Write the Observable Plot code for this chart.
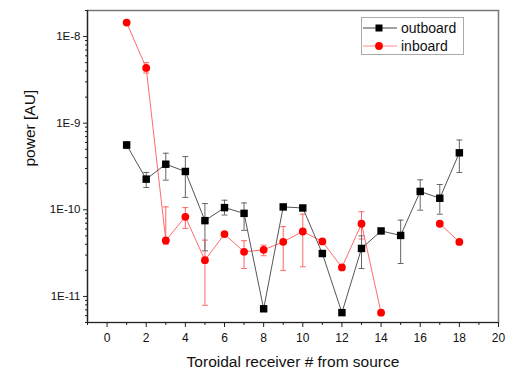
<!DOCTYPE html>
<html>
<head>
<meta charset="utf-8">
<script src="https://cdn.jsdelivr.net/npm/d3@7"></script>
<script src="https://cdn.jsdelivr.net/npm/@observablehq/plot@0.6"></script>
<style>
  html, body { margin: 0; padding: 0; background: #fff; }
  #wrap { position: relative; width: 512px; height: 368px; font-family: "Liberation Sans", Arial, sans-serif; }
  #legend { position: absolute; left: 361px; top: 17px; width: 101px; height: 36px; border: 1px solid #aaa; background: #fff; font-size: 14px; }
  #legend .row { position: absolute; left: 0; height: 18px; display: flex; align-items: center; }
  #legend svg { display: block; }
  #legend span { margin-left: 4px; color: #111; }
</style>
</head>
<body>
<div id="wrap"></div>
<script>
// ---- data ----
const receivers = [1,2,3,4,5,6,7,8,9,10,11,12,13,14,15,16,17,18];
const outboard = [5.6e-10,2.26e-10,3.36e-10,2.77e-10,7.5e-11,1.06e-10,9.1e-11,7.2e-12,1.08e-10,1.05e-10,3.13e-11,6.5e-12,3.58e-11,5.7e-11,5.06e-11,1.63e-10,1.36e-10,4.55e-10];
const outboardHi = [6.1e-10,2.7e-10,4.5e-10,4.12e-10,1.18e-10,1.29e-10,1.2e-10,null,null,null,null,null,5.0e-11,null,7.6e-11,2.22e-10,1.96e-10,6.4e-10];
const outboardLo = [5.1e-10,1.81e-10,2.2e-10,1.39e-10,3.36e-11,8.7e-11,5.8e-11,null,null,null,null,null,2.1e-11,null,2.4e-11,9.9e-11,8.9e-11,2.7e-10];
const inboard = [1.45e-8,4.35e-9,4.43e-11,8.3e-11,2.62e-11,5.24e-11,3.27e-11,3.45e-11,4.27e-11,5.62e-11,4.31e-11,2.16e-11,6.9e-11,6.5e-12,null,null,6.9e-11,4.26e-11];
const inboardHi = [null,5.0e-9,1.08e-10,1.06e-10,4.47e-11,null,4.4e-11,3.9e-11,6.4e-11,8.9e-11,null,null,9.5e-11,null,null,null,null,null];
const inboardLo = [null,3.8e-9,4.0e-11,6.1e-11,7.9e-12,null,2.1e-11,2.95e-11,2.0e-11,2.2e-11,null,null,4.6e-11,null,null,null,null,null];
const xMajorTicks = [0,2,4,6,8,10,12,14,16,18,20];
const xMinorTicks = [-1,1,3,5,7,9,11,13,15,17,19];
const yMajorTicks = [1e-8,1e-9,1e-10,1e-11];
const yTickLabels = ["1E-8","1E-9","1E-10","1E-11"];
const seriesNames = ["outboard","inboard"];
const xLabel = "Toroidal receiver # from source";
const yLabel = "power [AU]";

// ---- build tables ----
const outRows = receivers.map((r,i) => ({x: r, y: outboard[i], lo: outboardLo[i], hi: outboardHi[i]}));
const inRows = receivers.map((r,i) => ({x: r, y: inboard[i] == null ? NaN : inboard[i], lo: inboardLo[i], hi: inboardHi[i]}));
const outErr = outRows.filter(d => d.lo != null);
const inErr = inRows.filter(d => d.lo != null);
const caps = rows => rows.flatMap(d => [{x: d.x, v: d.lo}, {x: d.x, v: d.hi}]);
const capW = 0.15;
const yMinor = [];
for (let e = -12; e <= -8; e++) for (let m = 2; m <= 9; m++) {
  const v = m * Math.pow(10, e);
  if (v >= 5e-12 && v <= 2e-8) yMinor.push(v);
}
const yFmt = d => {
  const k = yMajorTicks.findIndex(v => Math.abs(Math.log10(v / d)) < 1e-6);
  return k >= 0 ? yTickLabels[k] : "";
};

const chart = Plot.plot({
  width: 512, height: 368,
  marginLeft: 87, marginRight: 14, marginTop: 10, marginBottom: 46,
  style: {fontFamily: "'Liberation Sans', Arial, sans-serif", fontSize: "12px", color: "#111", background: "#fff"},
  x: {domain: [-1, 20]},
  y: {type: "log", domain: [5e-12, 2e-8]},
  marks: [
    Plot.frame({stroke: "#777", strokeWidth: 1.5}),
    Plot.ruleX([-1], {stroke: "#222", strokeWidth: 1.2}),
    Plot.ruleY([5e-12], {stroke: "#222", strokeWidth: 1.2}),
    Plot.axisX({ticks: xMajorTicks, tickSize: 5, tickPadding: 6, fontSize: 12, label: null, stroke: "#222"}),
    Plot.axisX({ticks: xMinorTicks, tickSize: 3, text: null, label: null, stroke: "#222"}),
    Plot.axisY({ticks: yMajorTicks, tickFormat: yFmt, tickSize: 4, tickPadding: 3, fontSize: 11.5, label: null, stroke: "#222"}),
    Plot.axisY({ticks: yMinor, tickSize: 2, text: null, label: null, stroke: "#222"}),
    Plot.text([xLabel], {frameAnchor: "bottom", dy: 44, fontSize: 15.5, fill: "#111"}),
    Plot.text([yLabel], {frameAnchor: "left", dx: -57, rotate: -90, fontSize: 15.5, fill: "#111"}),
    // inboard error bars
    Plot.ruleX(inErr, {x: "x", y1: "lo", y2: "hi", stroke: "#f66", strokeWidth: 1}),
    Plot.link(caps(inErr), {x1: d => d.x - capW, x2: d => d.x + capW, y1: "v", y2: "v", stroke: "#f66", strokeWidth: 1}),
    // outboard error bars
    Plot.ruleX(outErr, {x: "x", y1: "lo", y2: "hi", stroke: "#666", strokeWidth: 1}),
    Plot.link(caps(outErr), {x1: d => d.x - capW, x2: d => d.x + capW, y1: "v", y2: "v", stroke: "#666", strokeWidth: 1}),
    // lines
    Plot.line(inRows, {x: "x", y: "y", stroke: "#ff6b6b", strokeWidth: 1}),
    Plot.line(outRows, {x: "x", y: "y", stroke: "#555", strokeWidth: 1}),
    // markers
    Plot.dot(outRows, {x: "x", y: "y", symbol: "square", r: 4.2, fill: "#000", stroke: "none"}),
    Plot.dot(inRows.filter(d => !isNaN(d.y)), {x: "x", y: "y", r: 3.9, fill: "#ff0000", stroke: "none"})
  ]
});
const wrap = document.getElementById("wrap");
wrap.appendChild(chart);

// legend
const leg = document.createElement("div");
leg.id = "legend";
const specs = [{name: seriesNames[0], line: "#444", fill: "#000", sym: "square"}, {name: seriesNames[1], line: "#ff8a8a", fill: "#ff0000", sym: "circle"}];
specs.forEach((s, i) => {
  const row = document.createElement("div");
  row.className = "row";
  row.style.top = (1 + i * 18) + "px";
  const marker = s.sym === "square"
    ? `<rect x="13.5" y="5.5" width="7" height="7" fill="${s.fill}"/>`
    : `<circle cx="17" cy="9" r="3.9" fill="${s.fill}"/>`;
  row.innerHTML = `<svg width="35" height="18"><line x1="1" x2="35" y1="9" y2="9" stroke="${s.line}" stroke-width="1"/>${marker}</svg><span>${s.name}</span>`;
  leg.appendChild(row);
});
wrap.appendChild(leg);
</script>
</body>
</html>
